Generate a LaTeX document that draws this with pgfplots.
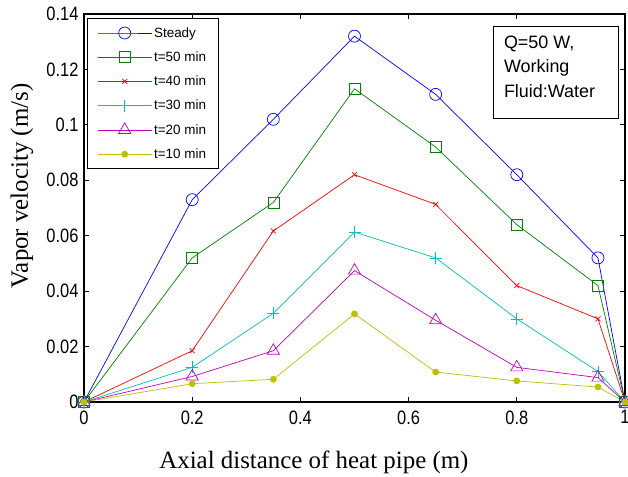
\documentclass[border=0pt]{standalone}
\usepackage{fontspec}
\setmainfont{Liberation Serif}
\newfontfamily\arial{Liberation Sans}
\usepackage{pgfplots}
\pgfplotsset{compat=1.18}
\definecolor{mblue}{rgb}{0,0,1}
\definecolor{mgreen}{rgb}{0,0.5,0}
\definecolor{mred}{rgb}{1,0,0}
\definecolor{mcyan}{rgb}{0,0.75,0.75}
\definecolor{mmag}{rgb}{0.75,0,0.75}
\definecolor{myel}{rgb}{0.75,0.75,0}
\newcommand{\tl}[1]{\scalebox{1}[1.18]{#1}}
\begin{document}
\begin{tikzpicture}
\path[use as bounding box] (-84bp,-75bp) rectangle (544bp,402bp);
\begin{axis}[
  scale only axis, width=541bp, height=388bp,
  xmin=0, xmax=1, ymin=0, ymax=0.14,
  xtick={0,0.2,0.4,0.6,0.8,1},
  ytick={0,0.02,0.04,0.06,0.08,0.1,0.12,0.14},
  yticklabels={\tl{0},\tl{0.02},\tl{0.04},\tl{0.06},\tl{0.08},\tl{0.1},\tl{0.12},\tl{0.14}},
  xticklabels={\tl{0},\tl{0.2},\tl{0.4},\tl{0.6},\tl{0.8},\tl{1}},
  tick align=inside, major tick length=5bp,
  axis line style={line width=1.2bp},
  every tick/.style={black, line width=0.8bp},
  tick label style={font=\arial\fontsize{16.5}{16.5}\selectfont},
  /pgf/number format/assume math mode=true,
  xticklabel style={yshift=-5bp},
  yticklabel style={xshift=-2bp},
  xlabel={Axial distance of heat pipe (m)},
  ylabel={Vapor velocity (m/s)},
  every axis x label/.style={at={(axis description cs:0.425,-0.155)},anchor=center,font=\fontsize{25}{25}\selectfont},
  every axis y label/.style={at={(axis description cs:-0.1146,0.557)},rotate=90,anchor=center,font=\fontsize{25}{25}\selectfont},
  legend style={at={(axis description cs:0.0055,0.9897)}, anchor=north west,
    font=\arial\fontsize{13.5}{13.5}\selectfont, draw=black, line width=0.8bp,
    row sep=9bp, inner xsep=10bp, inner ysep=7bp, cells={anchor=west}},
  legend image code/.code={\draw[mark repeat=2,mark phase=2,#1] plot coordinates {(0bp,0bp) (27bp,0bp) (54bp,0bp)};},
  every axis plot/.append style={line width=0.7bp},
  clip=false,
]
\addplot[mblue, mark=o, mark size=6bp, mark options={line width=0.7bp}] coordinates {
 (0,0) (0.2,0.073) (0.35,0.102) (0.5,0.132) (0.65,0.111) (0.8,0.082) (0.95,0.052) (1,0)};
\addlegendentry{Steady}
\addplot[mgreen, mark=square, mark size=5.5bp, mark options={line width=0.7bp}] coordinates {
 (0,0) (0.2,0.052) (0.35,0.072) (0.5,0.113) (0.65,0.092) (0.8,0.064) (0.95,0.042) (1,0)};
\addlegendentry{t=50 min}
\addplot[mred, mark=x, mark size=3.5bp, mark options={line width=0.7bp}] coordinates {
 (0,0) (0.2,0.0185) (0.35,0.0617) (0.5,0.082) (0.65,0.0713) (0.8,0.042) (0.95,0.030) (1,0)};
\addlegendentry{t=40 min}
\addplot[mcyan, mark=+, mark size=6bp, mark options={line width=0.7bp}] coordinates {
 (0,0) (0.2,0.0125) (0.35,0.032) (0.5,0.0613) (0.65,0.052) (0.8,0.030) (0.95,0.011) (1,0)};
\addlegendentry{t=30 min}
\addplot[mmag, mark=triangle, mark size=7bp, mark options={line width=0.7bp}] coordinates {
 (0,0) (0.2,0.0092) (0.35,0.0185) (0.5,0.0474) (0.65,0.0295) (0.8,0.0125) (0.95,0.0088) (1,0)};
\addlegendentry{t=20 min}
\addplot[myel, mark=*, mark size=3bp, mark options={line width=0.7bp}] coordinates {
 (0,0) (0.2,0.0066) (0.35,0.0082) (0.5,0.0318) (0.65,0.0108) (0.8,0.0076) (0.95,0.0054) (1,0)};
\addlegendentry{t=10 min}
\draw[line width=0.8bp, fill=white] (rel axis cs:0.756,0.969) rectangle (rel axis cs:0.987,0.732);
\node[anchor=north west, align=left, font=\arial\fontsize{18}{25}\selectfont, inner sep=0pt]
  at (rel axis cs:0.776,0.945) {Q=50 W,\\Working\\Fluid:Water};
\end{axis}
\end{tikzpicture}
\end{document}
